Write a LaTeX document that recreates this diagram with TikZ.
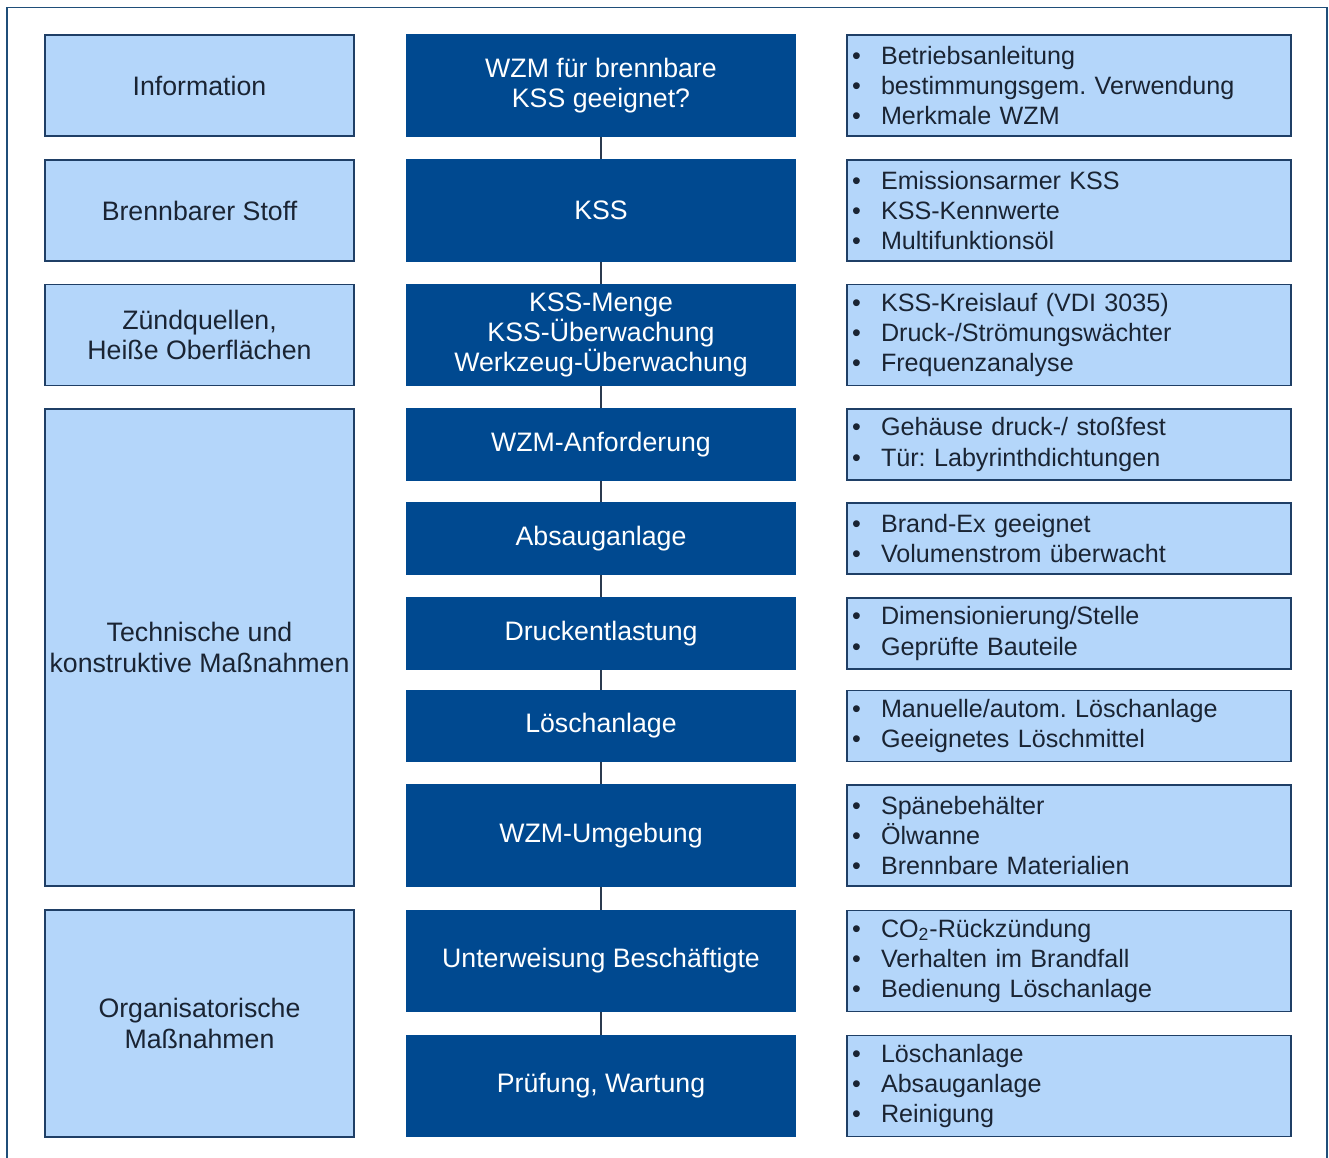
\documentclass[tikz,border=0pt]{standalone}
\usepackage{fontspec}
\setmainfont{Liberation Sans}
\usepackage{tikz}
\frenchspacing

\definecolor{hellblau}{HTML}{B4D6FA}
\definecolor{rand}{HTML}{1F3F66}
\definecolor{mittelblau}{HTML}{004990}
\definecolor{schrift}{HTML}{1A2433}
\definecolor{rahmen}{HTML}{1F4E79}
\definecolor{linie}{HTML}{2B3A4F}

\newcommand{\itm}[1]{\makebox[0.5cm][l]{\hspace{-0.08cm}\textbullet}#1}

\tikzset{
  links/.style={draw=rand,line width=1pt,fill=hellblau,text=schrift,align=center,
    minimum width=6.18cm,inner sep=0pt,font=\fontsize{15.2}{17.3}\selectfont},
  mitte/.style={draw=mittelblau,line width=1pt,fill=mittelblau,text=white,align=center,
    minimum width=7.76cm,inner sep=0pt,font=\fontsize{15.2}{17.3}\selectfont},
  rechts/.style={draw=rand,line width=1pt,fill=hellblau,text=schrift,align=left,
    text width=8.52cm,inner xsep=0.18cm,inner ysep=0pt},
  hoch/.style={minimum height=2.02cm},
  flach/.style={minimum height=1.42cm}
}

\begin{document}
\begin{tikzpicture}[x=0.02cm,y=-0.02cm,font=\fontsize{14.3}{17.3}\selectfont]
\useasboundingbox (0,0) rectangle (1329,1158);
%frame
\draw[rahmen,line width=1pt] (7,1170)--(7,7.5)--(1327,7.5)--(1327,1170);
%left column
\node[links,hoch] (info) at (199.5,85.5) {Information};
\node[links,hoch] (stoff) at (199.5,210.5) {Brennbarer Stoff};
\node[links,hoch] (zuend) at (199.5,335) {Zündquellen,\\Heiße Oberflächen};
\node[links,minimum height=9.54cm] (tech) at (199.5,647.5) {Technische und\\konstruktive Maßnahmen};
\node[links,minimum height=4.54cm] (orga) at (199.5,1023.5) {Organisatorische\\Maßnahmen};
%middle column
\node[mitte,hoch] (m1) at (601,85.5) {WZM für brennbare\\KSS geeignet?};
\node[mitte,hoch] (m2) at (601,210.5) {KSS};
\node[mitte,hoch] (m3) at (601,335) {KSS-Menge\\KSS-Überwachung\\Werkzeug-Überwachung};
\node[mitte,flach] (m4) at (601,444.5) {WZM-Anforderung};
\node[mitte,flach] (m5) at (601,538.5) {Absauganlage};
\node[mitte,flach] (m6) at (601,633.5) {Druckentlastung};
\node[mitte,flach] (m7) at (601,726) {Löschanlage};
\node[mitte,hoch] (m8) at (601,835.5) {WZM-Umgebung};
\node[mitte,hoch] (m9) at (601,961) {Unterweisung Beschäftigte};
\node[mitte,hoch] (m10) at (601,1086) {Prüfung, Wartung};
\foreach \a/\b in {m1/m2,m2/m3,m3/m4,m4/m5,m5/m6,m6/m7,m7/m8,m8/m9,m9/m10}
  \draw[linie,line width=1.2pt] (\a.south)--(\b.north);
%right column
\node[rechts,hoch] (r1) at (1069,85.5) {\itm{Betriebsanleitung}\\\itm{bestimmungsgem. Verwendung}\\\itm{Merkmale WZM}};
\node[rechts,hoch] (r2) at (1069,210.5) {\itm{Emissionsarmer KSS}\\\itm{KSS-Kennwerte}\\\itm{Multifunktionsöl}};
\node[rechts,hoch] (r3) at (1069,335) {\itm{KSS-Kreislauf (VDI 3035)}\\\itm{Druck-/Strömungswächter}\\\itm{Frequenzanalyse}};
\node[rechts,flach] (r4) at (1069,444.5) {\itm{Gehäuse druck-/ stoßfest}\\\itm{Tür: Labyrinthdichtungen}};
\node[rechts,flach] (r5) at (1069,538.5) {\itm{Brand-Ex geeignet}\\\itm{Volumenstrom überwacht}};
\node[rechts,flach] (r6) at (1069,633.5) {\itm{Dimensionierung/Stelle}\\\itm{Geprüfte Bauteile}};
\node[rechts,flach] (r7) at (1069,726) {\itm{Manuelle/autom. Löschanlage}\\\itm{Geeignetes Löschmittel}};
\node[rechts,hoch] (r8) at (1069,835.5) {\itm{Spänebehälter}\\\itm{Ölwanne}\\\itm{Brennbare Materialien}};
\node[rechts,hoch] (r9) at (1069,961) {\itm{CO\textsubscript{2}-Rückzündung}\\\itm{Verhalten im Brandfall}\\\itm{Bedienung Löschanlage}};
\node[rechts,hoch] (r10) at (1069,1086) {\itm{Löschanlage}\\\itm{Absauganlage}\\\itm{Reinigung}};
\end{tikzpicture}
\end{document}
